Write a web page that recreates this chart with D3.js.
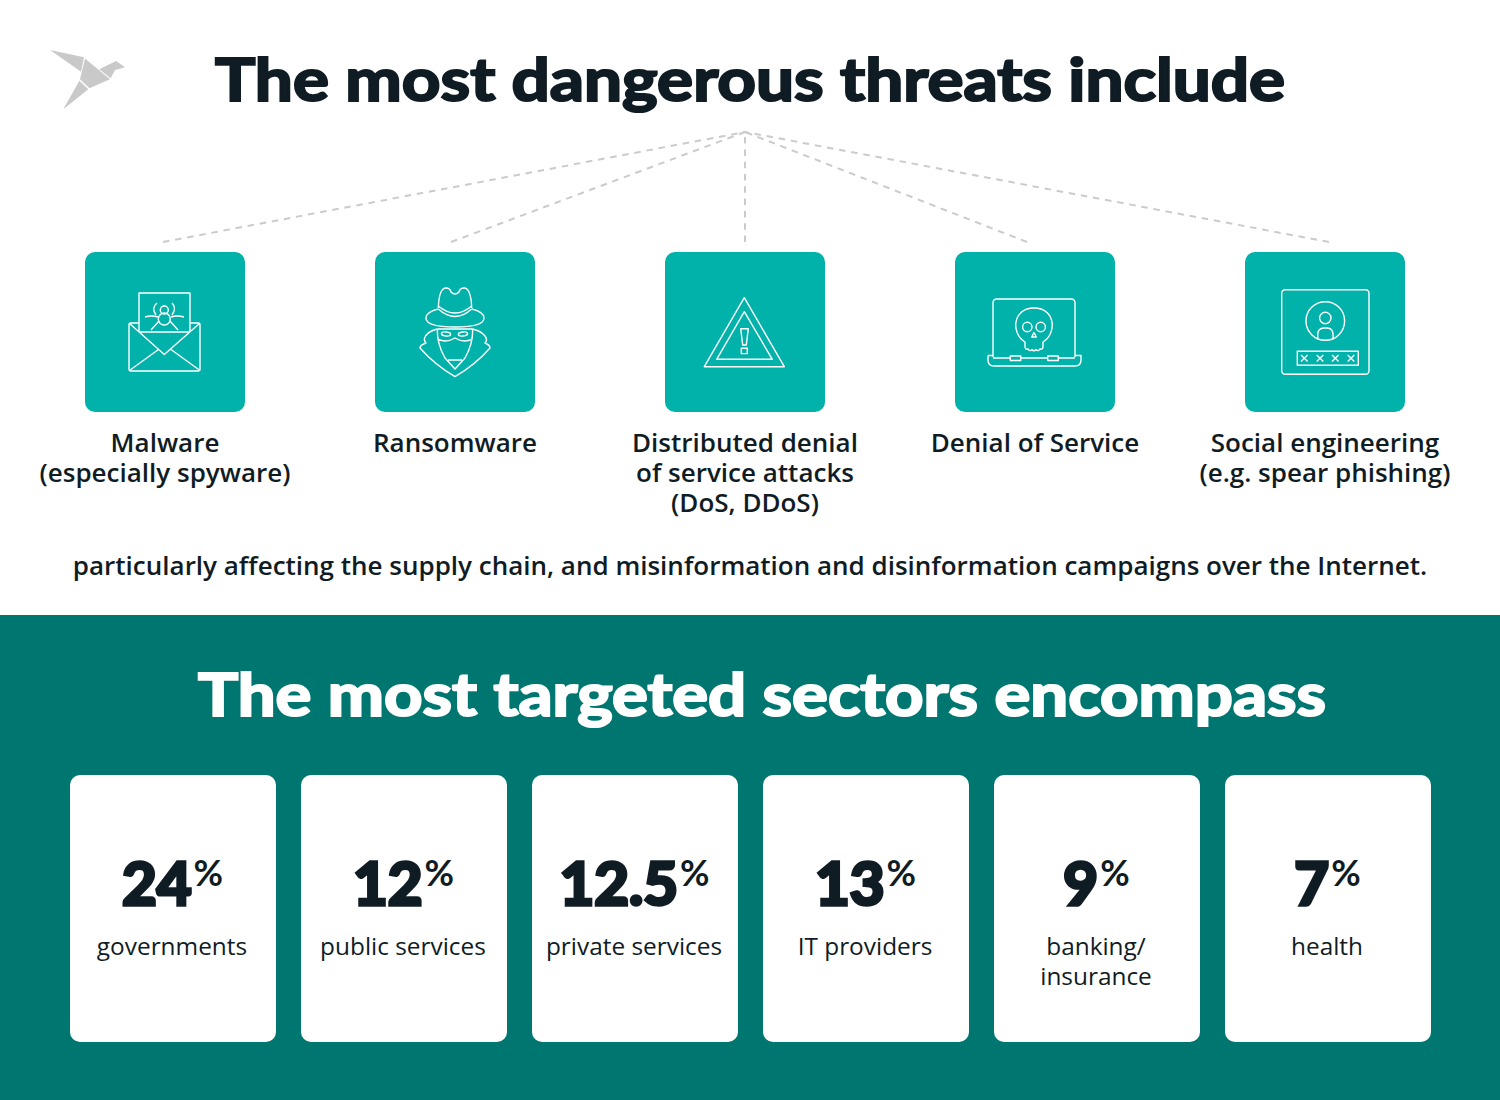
<!DOCTYPE html>
<html><head><meta charset="utf-8">
<script src="https://cdnjs.cloudflare.com/ajax/libs/d3/7.9.0/d3.min.js"></script>
<style>html,body{margin:0;padding:0;background:#fff}svg{display:block}</style>
</head><body><svg id="c" width="1500" height="1100" viewBox="0 0 1500 1100"></svg>
<script>
const titleTop = "The most dangerous threats include";
const titleBottom = "The most targeted sectors encompass";
const note = "particularly affecting the supply chain, and misinformation and disinformation campaigns over the Internet.";
const threats = ["malware","ransomware","ddos","dos","social"];
const threatLabels = [
  ["Malware","(especially spyware)"],
  ["Ransomware"],
  ["Distributed denial","of service attacks","(DoS, DDoS)"],
  ["Denial of Service"],
  ["Social engineering","(e.g. spear phishing)"]
];
const sectorNames = [["governments"],["public services"],["private services"],["IT providers"],["banking/","insurance"],["health"]];
const sectorValues = [24,12,12.5,13,9,7];

const INK="#101c24", TEAL="#00b2aa", DEEP="#007671", DASH="#cbcbcb";
const SANS="'Open Sans',sans-serif", HEAVY="Lato,sans-serif";
const svg=d3.select("#c");

// scales
const threatX=d3.scaleBand().domain(threats).range([85,1405]).paddingInner(130/290).paddingOuter(0);
const sectorX=d3.scaleBand().domain(sectorValues.map((_,i)=>i)).range([70,1431]).paddingInner(25/231).paddingOuter(0);

function fitted(sel,len){return sel.attr("textLength",len).attr("lengthAdjust","spacingAndGlyphs");}

// logo
const logo=svg.append("g").attr("fill","#c9c9c9");
[ "M50,50L84,57.3L81,71.7Z","M85,58.5L110,79.3L89.5,88.3L80,79.3Z","M79.3,80.7L88.3,89.3L63.3,109.3Z","M99.3,69.3L116,61L125,67.3L115,70L110.7,78.3Z" ]
 .forEach(p=>logo.append("path").attr("d",p));

// headings
fitted(svg.append("text").text(titleTop).attr("x",750).attr("y",101).attr("text-anchor","middle")
  .attr("font-family",HEAVY).attr("font-weight",700).attr("font-size",60).attr("fill",INK)
  .attr("stroke",INK).attr("stroke-width",2.2),1070);

// connectors
const hub=[745,132], ends=[[163,242],[451,242],[745,242],[1027,242],[1329,242]];
const line=d3.line();
svg.selectAll(".conn").data(ends).join("path").attr("class","conn")
  .attr("d",d=>line([d,hub])).attr("fill","none").attr("stroke",DASH).attr("stroke-width",2).attr("stroke-dasharray","6.5 5.8");

// icon drawings in tile-local units
const icons={
 malware(g){
  g.append("path").attr("d","M54,80V41H105V80M54,71H46Q44,71 44,73V117Q44,119 46,119H113Q115,119 115,117V73Q115,71 113,71H105M54,80H105");
  g.append("path").attr("d","M44,71L79.3,102.5L115,71M44.5,118.5L73.5,97.5M115,118.5L86,97.5");
  g.append("circle").attr("cx",79.3).attr("cy",67).attr("r",6);
  g.append("circle").attr("cx",79.3).attr("cy",58).attr("r",4);
  g.append("path").attr("d","M72,51Q66,56 71,63M87,51Q92,56 87,63M73,65Q66,63 60,65M86,65Q92,63 99,65M74,69L66,78M85,69L93,78");
 },
 ransomware(g){
  g.append("path").attr("d","M63.3,56Q64,36 71,36Q75,36 76,40Q80,44 84,40Q85,36 89,36Q96,36 96.7,56");
  g.append("path").attr("d","M63.3,54Q80,68 96.7,54M63.3,57Q80,72 96.7,57");
  g.append("path").attr("d","M63.3,57Q51,60 51,66Q51,75 80,75Q109,75 109,66Q109,60 96.7,57");
  g.append("path").attr("d","M62.3,77H97.7M63,87.5Q72,91 80,86Q88,91 97,87.5");
  g.append("path").attr("d","M62.3,77Q62,92 70,106L80,117L90,106Q98,92 97.7,77M73,108H87");
  g.append("ellipse").attr("cx",71).attr("cy",82).attr("rx",4.6).attr("ry",2).attr("transform","rotate(6 71 82)");
  g.append("ellipse").attr("cx",88).attr("cy",82).attr("rx",4.6).attr("ry",2).attr("transform","rotate(-6 88 82)");
  g.append("path").attr("d","M62.3,77Q54,79 50.5,84Q48,88 51,91Q45,93 45,96Q60,113 80,124.7Q100,113 115,96Q115,93 110,91Q113,88 110,84Q106,79 97.7,77");
 },
 ddos(g){
  g.append("path").attr("d","M79.3,45.7L119.3,114.7H39.3Z");
  g.append("path").attr("d","M79.3,59.7L107.3,107.3H51.7Z");
  g.append("path").attr("d","M75.7,76.7H83.3L81.3,93H77.7Z");
  g.append("rect").attr("x",76.3).attr("y",96.3).attr("width",6).attr("height",5.3);
 },
 dos(g){
  g.append("path").attr("d","M38,105V51Q38,47 42,47H116Q120,47 120,51V105M33,103.5V108Q33,114 39,114H120Q126,114 126,108V103.5H120M33,103.5H38M38,106H55.3M65.7,106H92.7M103.3,106H120");
  g.append("rect").attr("x",55.3).attr("y",104).attr("width",10.4).attr("height",4.5);
  g.append("rect").attr("x",92.7).attr("y",104).attr("width",10.6).attr("height",4.5);
  g.append("path").attr("d","M70,90C56,82 57,56 79,56C101,56 102,82 88,90V94Q88,98 85,97Q83,100 81,97.5Q79,100 77,97.5Q75,100 73,97Q70,98 70,94Z");
  g.append("circle").attr("cx",72.3).attr("cy",75).attr("r",4.7);
  g.append("circle").attr("cx",85.7).attr("cy",75).attr("r",4.7);
  g.append("path").attr("d","M79,80.5L81.3,85H76.7Z");
 },
 social(g){
  g.append("rect").attr("x",36.7).attr("y",37.7).attr("width",87.3).attr("height",84.6).attr("rx",3.5);
  g.append("circle").attr("cx",80.3).attr("cy",69).attr("r",19.3);
  g.append("circle").attr("cx",80.3).attr("cy",66).attr("r",5.7);
  g.append("path").attr("d","M72.7,87V83Q72.7,76 79,76H82Q88,76 88,83V87");
  g.append("rect").attr("x",52.3).attr("y",99.3).attr("width",61).attr("height",14);
  [59.3,75,90.3,106].forEach(x=>g.append("path").attr("d",`M${x-3.3},103L${x+3.3},109.6M${x+3.3},103L${x-3.3},109.6`));
 }
};

// threat tiles
const tiles=svg.selectAll(".tile").data(threats).join("g").attr("class","tile")
  .attr("transform",d=>`translate(${threatX(d)},252)`);
tiles.append("rect").attr("width",threatX.bandwidth()).attr("height",threatX.bandwidth()).attr("rx",10).attr("fill",TEAL);
tiles.each(function(d){
  const g=d3.select(this).append("g").attr("fill","none").attr("stroke","#fff").attr("stroke-width",1.4).attr("stroke-linejoin","round");
  icons[d](g);
});
tiles.each(function(d,i){
  d3.select(this).selectAll(".lab").data(threatLabels[i]).join("text").attr("class","lab").text(t=>t)
   .attr("x",threatX.bandwidth()/2).attr("y",(t,j)=>200+j*30).attr("text-anchor","middle")
   .attr("font-family",SANS).attr("font-weight",600).attr("font-size",26).attr("fill",INK);
});

svg.append("text").text(note).attr("x",750).attr("y",575).attr("text-anchor","middle")
  .attr("font-family",SANS).attr("font-weight",600).attr("font-size",26).attr("fill",INK);

// lower band
svg.append("rect").attr("x",0).attr("y",615).attr("width",1500).attr("height",485).attr("fill",DEEP);
fitted(svg.append("text").text(titleBottom).attr("x",762).attr("y",716).attr("text-anchor","middle")
  .attr("font-family",HEAVY).attr("font-weight",700).attr("font-size",60).attr("fill","#fff")
  .attr("stroke","#fff").attr("stroke-width",2.2),1128);

const cards=svg.selectAll(".card").data(sectorValues).join("g").attr("class","card")
  .attr("transform",(d,i)=>`translate(${sectorX(i)},775)`);
cards.append("rect").attr("width",sectorX.bandwidth()).attr("height",267).attr("rx",10).attr("fill","#fff");
const num=cards.append("text").attr("x",sectorX.bandwidth()/2-0.5).attr("y",130).attr("text-anchor","middle").attr("fill",INK);
num.append("tspan").text(d=>d).attr("font-family",HEAVY).attr("font-weight",700).attr("font-size",60)
   .attr("stroke",INK).attr("stroke-width",3.6);
num.append("tspan").text("%").attr("dy",-19).attr("dx",2).attr("font-family",HEAVY).attr("font-weight",700).attr("font-size",36);
cards.each(function(d,i){
  d3.select(this).selectAll(".lab").data(sectorNames[i]).join("text").attr("class","lab").text(t=>t)
   .attr("x",sectorX.bandwidth()/2-1).attr("y",(t,j)=>179.5+j*30).attr("text-anchor","middle")
   .attr("font-family",SANS).attr("font-weight",400).attr("font-size",24.4).attr("fill",INK);
});
</script></body></html>
